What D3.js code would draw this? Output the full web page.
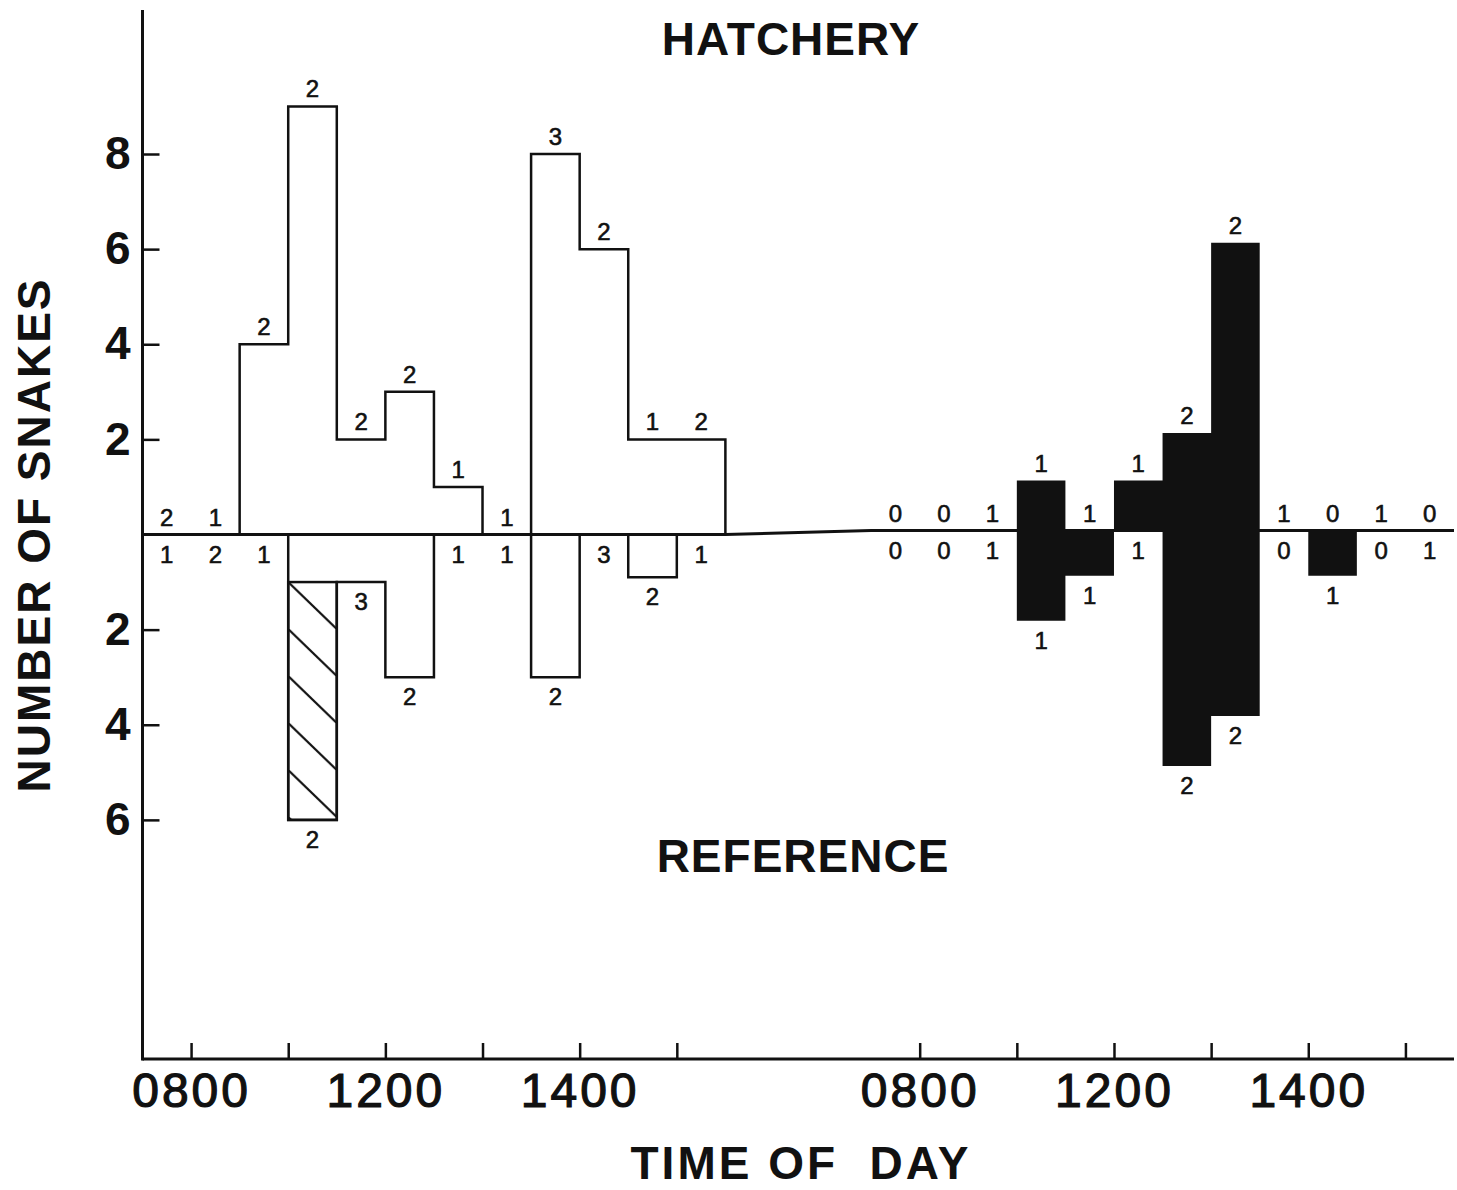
<!DOCTYPE html>
<html>
<head>
<meta charset="utf-8">
<script src="https://cdn.jsdelivr.net/npm/d3@7"></script>
<style>
  body { margin: 0; background: #fff; }
  text { font-family: "Liberation Sans", Arial, sans-serif; fill: #111; }
  .count { font-size: 24px; text-anchor: middle; stroke: #111; stroke-width: 0.6px; }
  .title { font-size: 46px; font-weight: bold; text-anchor: middle; }
  .tick text { font-size: 46px; font-weight: bold; }
  .x-axis .tick text { font-size: 48px; font-weight: normal; stroke: #111; stroke-width: 1.2px; letter-spacing: 3px; }
  .tick line { stroke: #111; stroke-width: 2.5px; }
</style>
</head>
<body>
<script>
  // half-hour slots, 12 per panel; up = hatchery, down = reference
  var leftUp = [0, 0, 4, 9, 2, 3, 1, 0, 8, 6, 2, 2];
  var leftDown = [0, 0, 0, 6, 1, 3, 0, 0, 3, 0, 0.9, 0];
  var leftUpN = ["2", "1", "2", "2", "2", "2", "1", "1", "3", "2", "1", "2"];
  var leftDownN = ["1", "2", "1", "2", "3", "2", "1", "1", "2", "3", "2", "1"];

  var rightUp = [0, 0, 0, 1.05, 0, 1.05, 2.05, 6.05, 0, 0, 0, 0];
  var rightDown = [0, 0, 0, 1.9, 0.95, 0, 4.95, 3.9, 0, 0.95, 0, 0];
  var rightUpN = ["0", "0", "1", "1", "1", "1", "2", "2", "1", "0", "1", "0"];
  var rightDownN = ["0", "0", "1", "1", "1", "1", "2", "2", "0", "1", "0", "1"];

  // hatched part of the left reference bar
  var hatchSlot = 3, hatchFrom = 1;

  var tickSlots = [1, 3, 5, 7, 9, 11];
  var tickLabels = ["0800", "", "1200", "", "1400", ""];
  var rightOffset = 15;
  var yTicks = [8, 6, 4, 2, -2, -4, -6];

  var W = 1457, H = 1190;
  var axisX = 142.5, axisBottom = 1059, axisTop = 10;

  var svg = d3.select("body").append("svg")
      .attr("width", W)
      .attr("height", H);

  var x = d3.scaleLinear().domain([0, 27]).range([axisX, 1454]);
  var yL = d3.scaleLinear().domain([0, 8]).range([534.5, 154]);
  var yR = d3.scaleLinear().domain([0, 8]).range([530.5, 150]);

  // hatch pattern
  var tileW = x(1) - x(0);
  var pat = svg.append("defs").append("pattern")
      .attr("id", "hatch")
      .attr("patternUnits", "userSpaceOnUse")
      .attr("x", x(hatchSlot))
      .attr("y", yL(-hatchFrom))
      .attr("width", tileW)
      .attr("height", 47);
  pat.append("line")
      .attr("x1", -2).attr("y1", -2 * 47 / tileW)
      .attr("x2", tileW + 2).attr("y2", 47 + 2 * 47 / tileW)
      .attr("stroke", "#111").attr("stroke-width", 2.2);

  function steps(vals, offset, sign) {
    var pts = [[offset, 0]];
    vals.forEach(function(v, i) { pts.push([offset + i, sign * v]); });
    pts.push([offset + vals.length, 0]);
    return pts;
  }

  var lineL = d3.line()
      .x(function(d) { return x(d[0]); })
      .y(function(d) { return yL(d[1]); })
      .curve(d3.curveStepAfter);

  var areaR = d3.area()
      .x(function(d) { return x(d[0]); })
      .y0(yR(0))
      .y1(function(d) { return yR(d[1]); })
      .curve(d3.curveStepAfter);

  // hatched rect
  svg.append("rect")
      .attr("x", x(hatchSlot))
      .attr("y", yL(-hatchFrom))
      .attr("width", x(hatchSlot + 1) - x(hatchSlot))
      .attr("height", yL(-leftDown[hatchSlot]) - yL(-hatchFrom))
      .attr("fill", "url(#hatch)")
      .attr("stroke", "#111")
      .attr("stroke-width", 2.5);

  // left panel outlines
  [[leftUp, 1], [leftDown, -1]].forEach(function(s) {
    svg.append("path")
        .attr("d", lineL(steps(s[0], 0, s[1])))
        .attr("fill", "none")
        .attr("stroke", "#111")
        .attr("stroke-width", 2.5)
        .attr("stroke-linejoin", "miter");
  });

  // right panel solid bars
  [[rightUp, 1], [rightDown, -1]].forEach(function(s) {
    svg.append("path")
        .attr("d", areaR(steps(s[0], rightOffset, s[1])))
        .attr("fill", "#111");
  });

  // zero line: flat under each panel, gently stepping down across the gap
  var zeroPts = [[x(0), yL(0)], [x(12), yL(0)], [x(rightOffset), yR(0)], [x(27), yR(0)]];
  svg.append("path")
      .attr("d", d3.line()(zeroPts))
      .attr("fill", "none")
      .attr("stroke", "#111").attr("stroke-width", 3);

  // count labels
  function counts(vals, labels, offset, yS, up) {
    svg.append("g").selectAll("text")
        .data(labels)
        .enter().append("text")
        .attr("class", "count")
        .attr("x", function(d, i) { return x(offset + i + 0.5); })
        .attr("y", function(d, i) {
          return up ? yS(vals[i]) - 9 : yS(-vals[i]) + 28;
        })
        .text(function(d) { return d; });
  }
  counts(leftUp, leftUpN, 0, yL, true);
  counts(leftDown, leftDownN, 0, yL, false);
  counts(rightUp, rightUpN, rightOffset, yR, true);
  counts(rightDown, rightDownN, rightOffset, yR, false);

  // y axis
  svg.append("g")
      .attr("transform", "translate(" + axisX + ",0)")
      .call(d3.axisLeft(yL)
        .tickValues(yTicks)
        .tickFormat(function(d) { return Math.abs(d); })
        .tickSize(-17)
        .tickPadding(12))
      .call(function(g) { g.select(".domain").remove(); });

  svg.append("line")
      .attr("x1", axisX).attr("y1", axisTop)
      .attr("x2", axisX).attr("y2", axisBottom + 1.5)
      .attr("stroke", "#111").attr("stroke-width", 3);

  // x axis
  var allTicks = tickSlots.concat(tickSlots.map(function(t) { return t + rightOffset; }));
  svg.append("g")
      .attr("class", "x-axis")
      .attr("transform", "translate(0," + axisBottom + ")")
      .call(d3.axisBottom(x)
        .tickValues(allTicks)
        .tickFormat(function(d, i) { return tickLabels[i % tickLabels.length]; })
        .tickSize(-16)
        .tickPadding(14))
      .call(function(g) { g.select(".domain").remove(); });

  svg.append("line")
      .attr("x1", axisX).attr("y1", axisBottom)
      .attr("x2", x(27)).attr("y2", axisBottom)
      .attr("stroke", "#111").attr("stroke-width", 3);

  // titles
  svg.append("text").attr("class", "title")
      .attr("x", 791).attr("y", 55)
      .attr("letter-spacing", 1)
      .text("HATCHERY");
  svg.append("text").attr("class", "title")
      .attr("x", 803).attr("y", 872)
      .attr("letter-spacing", 1)
      .text("REFERENCE");
  svg.append("text").attr("class", "title")
      .attr("x", 801).attr("y", 1179)
      .attr("letter-spacing", 3)
      .style("white-space", "pre")
      .text("TIME OF  DAY");
  svg.append("text").attr("class", "title")
      .attr("transform", "translate(50,535) rotate(-90)")
      .attr("letter-spacing", 2)
      .text("NUMBER OF SNAKES");
</script>
</body>
</html>
